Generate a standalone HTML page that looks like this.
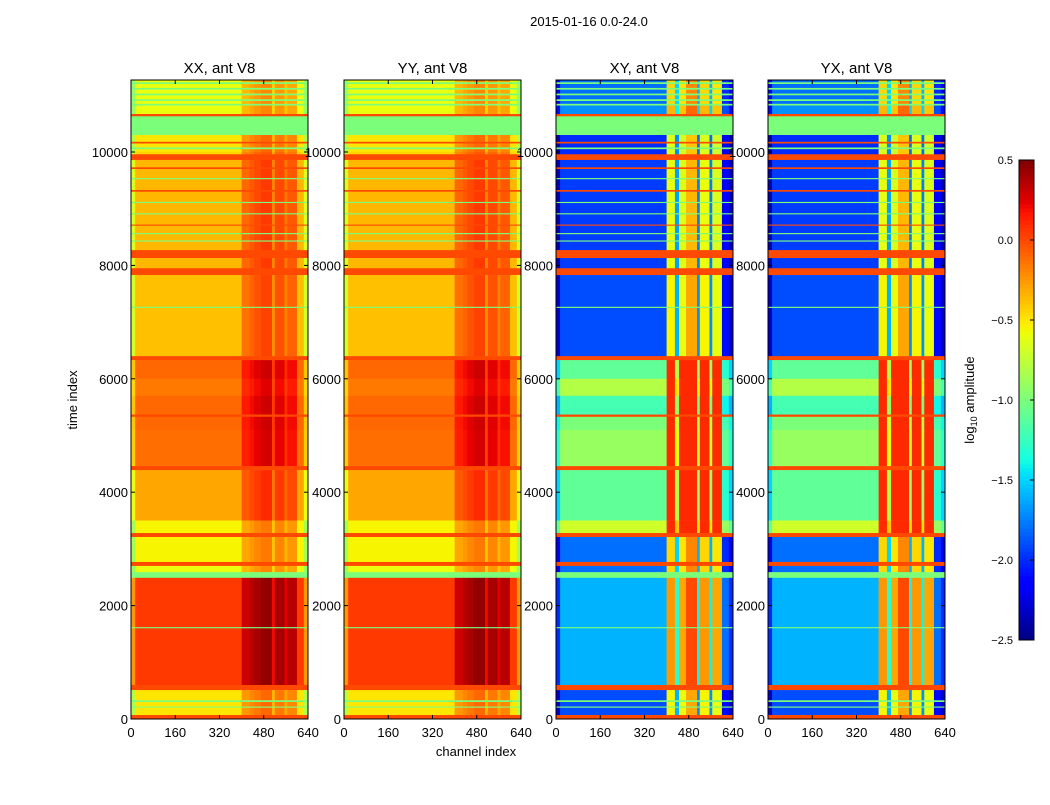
<!DOCTYPE html>
<html><head><meta charset="utf-8"><style>
body{margin:0;background:#fff;}
svg text{font-family:"Liberation Sans",sans-serif;}
</style></head><body>
<svg id="fig" width="1050" height="800" xmlns="http://www.w3.org/2000/svg">
<rect width="1050" height="800" fill="#fff"/>
<text x="589" y="26" font-size="13" text-anchor="middle">2015-01-16 0.0-24.0</text>
<text x="476" y="756" font-size="13" text-anchor="middle">channel index</text>
<text x="77" y="400" font-size="13" text-anchor="middle" transform="rotate(-90 77 400)">time index</text>
<text x="974" y="400" font-size="13" text-anchor="middle" transform="rotate(-90 974 400)">log<tspan font-size="9" dy="3">10</tspan><tspan dy="-3"> amplitude</tspan></text>
<g id="panels"></g>
<g id="cbar"></g>
</svg>
<script>
// time bands (time index), levels in log10 amplitude; flag = constant across channels (null if none)
const rowStart = [11230,11200,11130,11100,11030,11000,10930,10900,10850,10820,10670,10630,10300,10180,10150,10080,10050,10000,9960,9860,9730,9700,9540,9520,9330,9300,9120,9100,8920,8900,8720,8700,8570,8550,8440,8420,8270,8130,7950,7830,7270,7250,6400,6330,6000,5700,5370,5330,5100,4460,4390,3500,3280,3210,2770,2700,2590,2490,1620,1600,600,510,330,300,220,200,70,0];
const rowEnd   = [11270,11230,11200,11130,11100,11030,11000,10930,10900,10850,10820,10670,10630,10300,10180,10150,10080,10050,10000,9960,9860,9730,9700,9540,9520,9330,9300,9120,9100,8920,8900,8720,8700,8570,8550,8440,8420,8270,8130,7950,7830,7270,7250,6400,6330,6000,5700,5370,5330,5100,4460,4390,3500,3280,3210,2770,2700,2590,2490,1620,1600,600,510,330,300,220,200,70];
const autoLevel = [-0.6,-0.6,-0.6,-0.6,-0.6,-0.6,-0.6,-0.6,-0.6,-0.6,-0.6,0,0,-0.5,-0.5,-0.5,-0.5,-0.5,-0.45,0,-0.35,0,-0.35,0,-0.35,0,-0.35,0,-0.35,0,-0.35,0,-0.35,0,-0.35,0,-0.35,0,-0.35,0,-0.38,0,-0.38,0,-0.1,-0.15,-0.1,0,-0.1,-0.12,0,-0.3,-0.55,0,-0.55,0,-0.6,0,0.05,0,0.05,0,-0.5,0,-0.5,0,-0.5,0];
const crossLevel = [-1.8,-1.8,-1.8,-1.8,-1.8,-1.8,-1.8,-1.8,-1.8,-1.8,-1.7,0,0,-2.0,-2.0,-2.0,-2.0,-2.0,-2.0,0,-1.95,0,-1.95,0,-1.95,0,-1.95,0,-1.95,0,-1.95,0,-1.95,0,-1.95,0,-1.95,0,-1.95,0,-1.9,0,-1.9,0,-1.1,-0.8,-1.2,0,-1.0,-0.9,0,-1.1,-0.7,0,-1.8,0,-1.8,0,-1.6,0,-1.6,0,-1.9,0,-1.9,0,-1.9,0];
const flagLevel = [null,-1.0,null,-1.0,null,-1.0,null,-1.0,null,-1.0,null,0.0,-1.0,null,0.0,null,-1.0,null,null,0.0,null,0.0,null,-1.0,null,0.0,null,-1.0,null,-1.0,null,0.0,null,-1.0,null,-1.0,null,0.0,null,0.0,null,-1.0,null,0.0,null,null,null,0.0,null,null,0.0,null,null,0.0,null,0.0,null,-1.0,null,-1.0,null,0.0,null,-1.0,null,-1.0,null,0.0];
// channel segments
const chanEdges = [0,15,400,430,445,470,510,520,555,565,600,625,640];
const autoOffset = [-0.3,0,0.25,0.3,0.35,0.4,0.15,0.35,0.2,0.3,0.0,-0.3];
const crossOffset = [-0.4,0,1.35,0.3,1.3,1.6,0.2,1.35,0.2,1.3,-0.2,-0.4];
const panelTitles = ["XX, ant V8","YY, ant V8","XY, ant V8","YX, ant V8"];
const panelKind = ["auto","auto","cross","cross"];
const yTicks = [0,2000,4000,6000,8000,10000];
const xTicks = [0,160,320,480,640];
const cbTicks = [-2.5,-2.0,-1.5,-1.0,-0.5,0.0,0.5];
const crossCap = 0.1;

const NS="http://www.w3.org/2000/svg";
const panelX=[131,344,556,768], PW=177, PT=80, PB=719, TMAX=11270, VMIN=-2.5, VMAX=0.5;
function interp(pts,v){for(let i=1;i<pts.length;i++){if(v<=pts[i][0]){const a=pts[i-1],b=pts[i];return a[1]+(b[1]-a[1])*(v-a[0])/(b[0]-a[0]);}}return pts[pts.length-1][1];}
function jet(val){let v=(val-VMIN)/(VMAX-VMIN);v=Math.max(0,Math.min(1,v));
 const r=interp([[0,0],[0.35,0],[0.66,1],[0.89,1],[1,0.5]],v);
 const g=interp([[0,0],[0.125,0],[0.375,1],[0.64,1],[0.91,0],[1,0]],v);
 const b=interp([[0,0.5],[0.11,1],[0.34,1],[0.65,0],[1,0]],v);
 return `rgb(${Math.round(r*255)},${Math.round(g*255)},${Math.round(b*255)})`;}
function mk(tag,attrs,parent){const e=document.createElementNS(NS,tag);for(const k in attrs)e.setAttribute(k,attrs[k]);parent.appendChild(e);return e;}
const yScale=t=>PB-(t/TMAX)*(PB-PT);
const panels=document.getElementById('panels');
panelX.forEach((x0,p)=>{
 const xs=c=>x0+c/640*PW;
 const g=mk('g',{},panels);
 
 
 for(let r=0;r<rowStart.length;r++){
  const y1=yScale(rowEnd[r]),y2=yScale(rowStart[r]);
  if(flagLevel[r]!==null){
   const rc=mk('rect',{x:x0,y:y1,width:PW,height:(y2-y1)+0.3,fill:jet(flagLevel[r])},g);
   
   
   continue;}
  const cross=panelKind[p]!=="auto";
  const base=cross?crossLevel[r]:autoLevel[r];
  const offs=cross?crossOffset:autoOffset;
  for(let c=0;c<offs.length;c++){
   const xa=xs(chanEdges[c]),xb=xs(chanEdges[c+1]);
   let v=base+offs[c]; if(cross) v=Math.min(crossCap,v);
   const rc=mk('rect',{x:xa,y:y1,width:(xb-xa)+0.3,height:(y2-y1)+0.3,fill:jet(v)},g);
   
   
  }
 }
 const fr=mk('rect',{x:x0,y:PT,width:PW,height:PB-PT,fill:'none',stroke:'#000','stroke-width':1},g);
 
 
 const tt=mk('text',{x:x0+PW/2,y:73,'font-size':15,'text-anchor':'middle'},g);
 tt.textContent=panelTitles[p];
 
 
 yTicks.forEach(t=>{const y=yScale(t);
  mk('line',{x1:x0,x2:x0+4,y1:y,y2:y,stroke:'#000'},g);
  mk('line',{x1:x0+PW-4,x2:x0+PW,y1:y,y2:y,stroke:'#000'},g);
  const l=mk('text',{x:x0-3,y:y+5,'font-size':13,'text-anchor':'end'},g);
  l.textContent=t;
  
  });
 xTicks.forEach(c=>{const x=xs(c);
  mk('line',{x1:x,x2:x,y1:PB,y2:PB-4,stroke:'#000'},g);
  mk('line',{x1:x,x2:x,y1:PT,y2:PT+4,stroke:'#000'},g);
  const l=mk('text',{x:x,y:737,'font-size':13,'text-anchor':'middle'},g);
  l.textContent=c;
  
  });
});
// colorbar
const cb=document.getElementById('cbar');
const CX=1019,CW=15,CT=160,CB=640;
for(let i=0;i<120;i++){const v=VMIN+(i+0.5)/120*(VMAX-VMIN);
 const y=CB-(i+1)/120*(CB-CT);
 mk('rect',{x:CX,y:y,width:CW,height:(CB-CT)/120+0.4,fill:jet(v)},cb);}
mk('rect',{x:CX,y:CT,width:CW,height:CB-CT,fill:'none',stroke:'#000'},cb);
cbTicks.forEach(v=>{const y=CB-(v-VMIN)/(VMAX-VMIN)*(CB-CT);
 mk('line',{x1:CX+CW-4,x2:CX+CW,y1:y,y2:y,stroke:'#000'},cb);
 const l=mk('text',{x:1013,y:y+4,'font-size':11,'text-anchor':'end'},cb);
 l.textContent=(v<0?'\u2212':'')+Math.abs(v).toFixed(1);
 
 });
</script>
</body></html>
